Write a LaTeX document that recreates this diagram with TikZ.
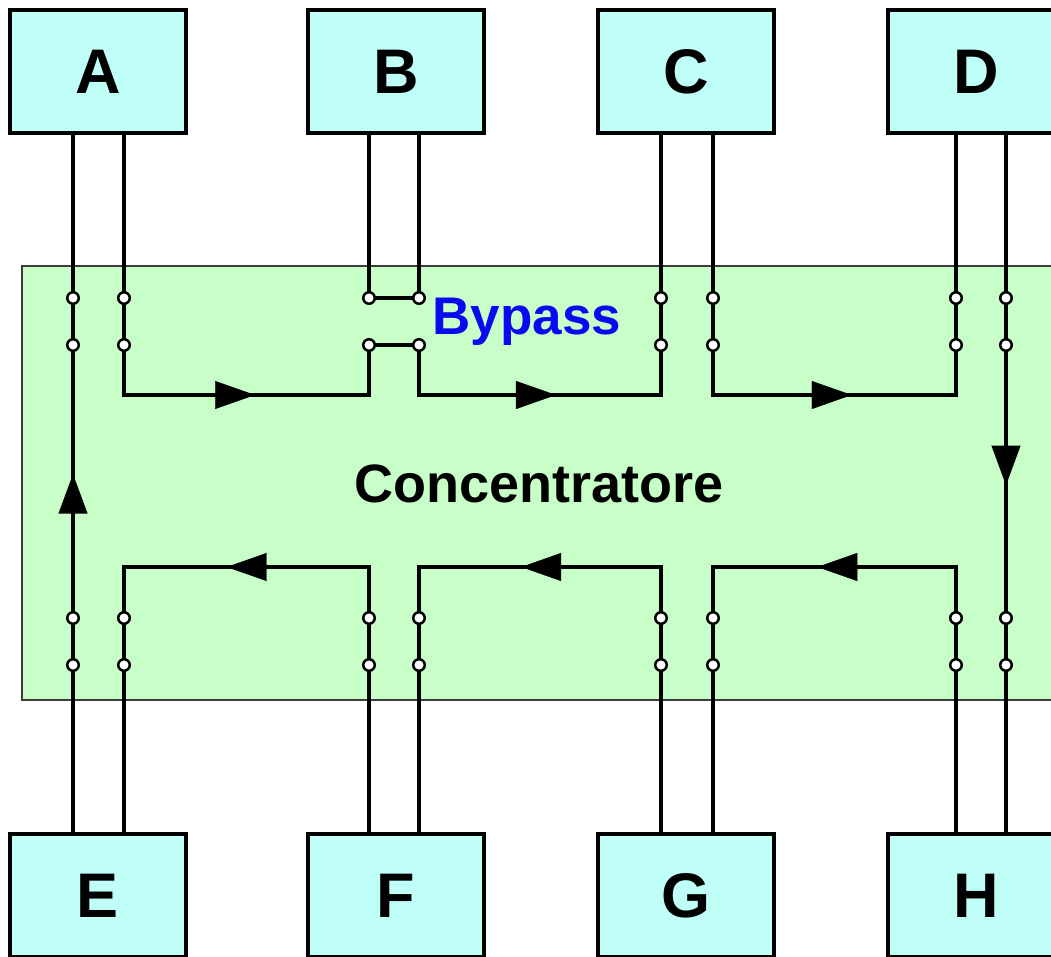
\documentclass[tikz,border=0pt]{standalone}
\usepackage{fontspec}
\setmainfont{Liberation Sans}
\usetikzlibrary{positioning, arrows.meta, decorations.markings}
\definecolor{unitcyan}{RGB}{192,255,248}
\definecolor{ringgreen}{RGB}{200,255,200}
\definecolor{rimgray}{RGB}{60,60,60}
\definecolor{bypassblue}{RGB}{10,10,240}

\begin{document}
\begin{tikzpicture}[x=1pt, y=-1pt,
    unit/.style={draw, line width=4pt, fill=unitcyan, minimum width=176pt,
        minimum height=123pt, font=\fontsize{63}{70}\selectfont\bfseries},
    wire/.style={line width=4.5pt},
    port/.style={circle, draw, line width=2.5pt, fill=white, inner sep=0pt, minimum size=11.5pt},
    flow/.style={postaction={decorate}, decoration={markings,
        mark=at position #1 with {\arrow{Triangle[length=40pt, width=28pt]}}}}]
    \clip (0,0) rectangle (1051,957);
    % concentratore
    \node (conc) [draw=rimgray, line width=2pt, fill=ringgreen, minimum width=1060pt,
        minimum height=434pt] at (552,483) {};
    \node (conclabel) [font=\fontsize{54}{60}\selectfont\bfseries] at (539,484) {Concentratore};
    % stazioni
    \node[unit] (A) at (98,71.5) {A};
    \node[unit, right=118pt of A] (B) {B};
    \node[unit, right=110pt of B] (C) {C};
    \node[unit, right=110pt of C] (D) {D};
    \node[unit, below=697pt of A] (E) {E};
    \node[unit, below=697pt of B] (F) {F};
    \node[unit, below=697pt of C] (G) {G};
    \node[unit, below=697pt of D] (H) {H};
    % punti di connessione
    \foreach \n/\x in {aL/73, aR/124, bL/369, bR/419, cL/661, cR/713, dL/956, dR/1006} {
        \coordinate (\n-1) at (\x,298);
        \coordinate (\n-2) at (\x,345);
        \coordinate (\n-3) at (\x,618);
        \coordinate (\n-4) at (\x,665);
        \coordinate (\n-t) at (\x,395);
        \coordinate (\n-b) at (\x,567);
    }
    % anello
    \draw[wire, flow=0.514] (E.north -| aL-1) -- (A.south -| aL-1);
    \draw[wire] (A.south -| aR-1) -- (aR-t) -- (bL-t) -- (bL-2) -- (bR-2) -- (bR-t)
        -- (cL-t) -- (C.south -| cL-1);
    \draw[wire] (B.south -| bL-1) -- (bL-1) -- (bR-1) -- (B.south -| bR-1);
    \draw[wire] (C.south -| cR-1) -- (cR-t) -- (dL-t) -- (D.south -| dL-1);
    \draw[wire, flow=0.503] (D.south -| dR-1) -- (H.north -| dR-1);
    \draw[wire] (H.north -| dL-1) -- (dL-b) -- (cR-b) -- (G.north -| cR-1);
    \draw[wire] (G.north -| cL-1) -- (cL-b) -- (bR-b) -- (F.north -| bR-1);
    \draw[wire] (F.north -| bL-1) -- (bL-b) -- (aR-b) -- (E.north -| aR-1);
    % frecce
    \path[flow=0.535] (aR-t) -- (bL-t);
    \path[flow=0.566] (bR-t) -- (cL-t);
    \path[flow=0.571] (cR-t) -- (dL-t);
    \path[flow=0.571] (dL-b) -- (cR-b);
    \path[flow=0.578] (cL-b) -- (bR-b);
    \path[flow=0.581] (bL-b) -- (aR-b);
    \foreach \n in {aL, aR, bL, bR, cL, cR, dL, dR}
        \foreach \r in {1,...,4}
            \node[port] at (\n-\r) {};
    \node (bypass) [text=bypassblue, font=\fontsize{53}{60}\selectfont\bfseries] at (527,322) {Bypass};
\end{tikzpicture}
\end{document}
